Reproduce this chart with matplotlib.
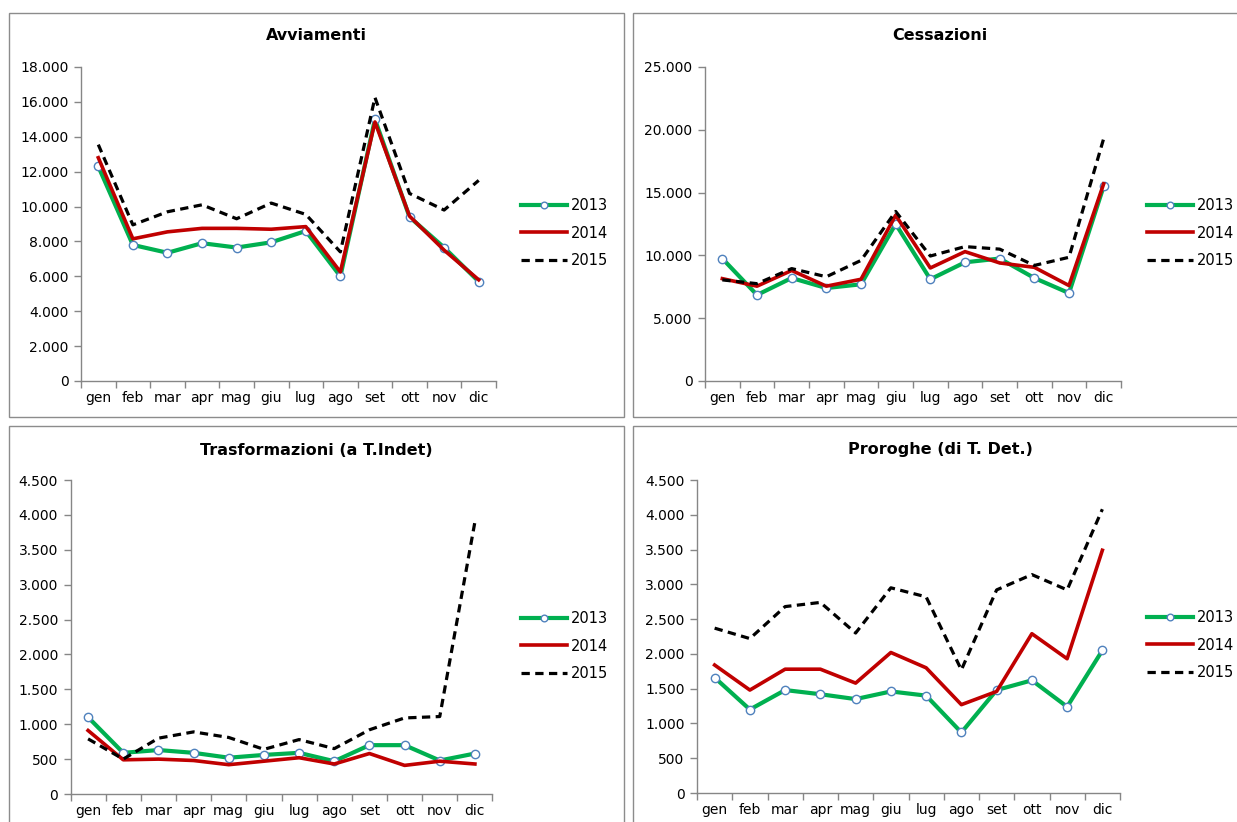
import matplotlib
matplotlib.use("Agg")
import matplotlib.pyplot as plt
from matplotlib.patches import Rectangle
from matplotlib.ticker import FuncFormatter, FixedLocator

plt.rcParams['font.family'] = ['DejaVu Sans']

months = ["gen", "feb", "mar", "apr", "mag", "giu", "lug", "ago", "set", "ott", "nov", "dic"]
years = ["2013", "2014", "2015"]

avviamenti_2013 = [12300, 7800, 7350, 7900, 7650, 7950, 8600, 6000, 15000, 9400, 7650, 5700]
avviamenti_2014 = [12800, 8150, 8550, 8750, 8750, 8700, 8850, 6250, 14850, 9450, 7500, 5800]
avviamenti_2015 = [13550, 8950, 9700, 10100, 9300, 10200, 9550, 7400, 16250, 10750, 9800, 11500]

cessazioni_2013 = [9750, 6850, 8200, 7400, 7700, 12500, 8100, 9450, 9750, 8200, 7000, 15500]
cessazioni_2014 = [8150, 7550, 8800, 7550, 8100, 13200, 9000, 10300, 9400, 9050, 7600, 15700]
cessazioni_2015 = [8050, 7750, 8950, 8300, 9600, 13500, 9950, 10700, 10500, 9200, 9850, 19300]

trasformazioni_2013 = [1100, 590, 630, 590, 520, 560, 590, 470, 700, 700, 480, 580]
trasformazioni_2014 = [910, 490, 500, 480, 420, 470, 520, 430, 580, 410, 470, 430]
trasformazioni_2015 = [790, 500, 800, 890, 810, 640, 780, 650, 920, 1090, 1110, 3900]

proroghe_2013 = [1660, 1200, 1480, 1420, 1350, 1460, 1400, 870, 1480, 1620, 1240, 2050]
proroghe_2014 = [1840, 1480, 1780, 1780, 1580, 2020, 1800, 1270, 1460, 2290, 1930, 3490]
proroghe_2015 = [2370, 2220, 2680, 2740, 2300, 2950, 2820, 1770, 2920, 3140, 2920, 4080]

W, H = 1237, 822
fig = plt.figure(figsize=(W / 100, H / 100), dpi=100)
fig.patch.set_facecolor("white")

AX_COL = "#868686"
GREEN = "#00B050"
RED = "#C00000"
MARK_EDGE = "#4F81BD"


def fbox(x0, y0, x1, y1):
    return [x0 / W, 1 - y1 / H, (x1 - x0) / W, (y1 - y0) / H]


def thousands(v, pos):
    return "{:,.0f}".format(v).replace(",", ".")


panels = [
    dict(title="Avviamenti", data=(avviamenti_2013, avviamenti_2014, avviamenti_2015),
         ax=(81, 67, 496, 381), ymax=18000, step=2000,
         border=(9, 13, 624, 417), title_xy=(316, 36), leg=(521, 233)),
    dict(title="Cessazioni", data=(cessazioni_2013, cessazioni_2014, cessazioni_2015),
         ax=(705, 67, 1121, 381), ymax=25000, step=5000,
         border=(633, 13, 1250, 417), title_xy=(940, 36), leg=(1147, 233)),
    dict(title="Trasformazioni (a T.Indet)", data=(trasformazioni_2013, trasformazioni_2014, trasformazioni_2015),
         ax=(70.5, 480, 492.5, 794), ymax=4500, step=500,
         border=(9, 426, 624, 830), title_xy=(316, 450), leg=(521, 646)),
    dict(title="Proroghe (di T. Det.)", data=(proroghe_2013, proroghe_2014, proroghe_2015),
         ax=(697, 480, 1120, 793), ymax=4500, step=500,
         border=(633, 426, 1250, 830), title_xy=(940, 449), leg=(1147, 645)),
]

for p in panels:
    bx0, by0, bx1, by1 = p["border"]
    fig.patches.append(Rectangle((bx0 / W, 1 - by1 / H), (bx1 - bx0) / W, (by1 - by0) / H,
                                 transform=fig.transFigure, fill=False,
                                 edgecolor="#8C8C8C", linewidth=1.0, zorder=0))
    fig.text(p["title_xy"][0] / W, 1 - p["title_xy"][1] / H, p["title"],
             ha="center", va="center", fontsize=11.5, fontweight="bold", color="black")

    x0, y0, x1, y1 = p["ax"]
    ax = fig.add_axes(fbox(x0, y0, x1, y1))
    ax.set_facecolor("none")
    xs = list(range(len(months)))
    d13, d14, d15 = p["data"]
    l13, = ax.plot(xs, d13, color=GREEN, lw=3.0, marker="o", markersize=6,
                   markerfacecolor="white", markeredgecolor=MARK_EDGE, markeredgewidth=1.0,
                   solid_joinstyle="round", zorder=3, label=years[0])
    l14, = ax.plot(xs, d14, color=RED, lw=2.6, solid_joinstyle="round", zorder=4, label=years[1])
    l15, = ax.plot(xs, d15, color="black", lw=2.3, linestyle=(0, (2.6, 1.7)),
                   dash_capstyle="butt", zorder=5, label=years[2])

    ax.set_xlim(-0.5, len(months) - 0.5)
    ax.set_ylim(0, p["ymax"])
    ax.set_yticks(range(0, p["ymax"] + 1, p["step"]))
    ax.yaxis.set_major_formatter(FuncFormatter(thousands))
    ax.set_xticks(xs)
    ax.set_xticklabels(months)
    ax.xaxis.set_minor_locator(FixedLocator([i - 0.5 for i in range(len(months) + 1)]))
    ax.tick_params(axis="x", which="major", length=0, pad=7, labelsize=10, colors="black")
    ax.tick_params(axis="x", which="minor", length=5, width=1, color=AX_COL, direction="out")
    ax.tick_params(axis="y", which="major", length=5, width=1, color=AX_COL, labelsize=10,
                   pad=4, labelcolor="black", direction="out")
    for s in ("top", "right"):
        ax.spines[s].set_visible(False)
    for s in ("left", "bottom"):
        ax.spines[s].set_color(AX_COL)
        ax.spines[s].set_linewidth(1.0)
    ax.grid(False)

    lx, ly = p["leg"]
    leg = fig.legend(handles=[l13, l14, l15], loc="center left",
                     bbox_to_anchor=(lx / W, 1 - ly / H), bbox_transform=fig.transFigure,
                     frameon=False, fontsize=10.5, handlelength=3.15, handletextpad=0.3,
                     labelspacing=0.85, borderpad=0, borderaxespad=0, numpoints=1,
                     markerscale=0.8)

fig.savefig("out.png", dpi=100, facecolor="white")
